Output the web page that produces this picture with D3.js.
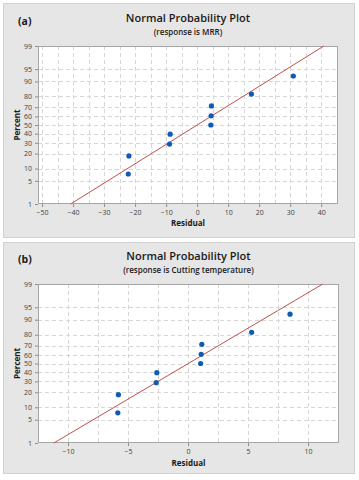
<!DOCTYPE html>
<html><head><meta charset="utf-8">
<script src="https://cdn.jsdelivr.net/npm/d3@7"></script>
<style>body{margin:0;background:#fff;}svg{display:block;}</style>
</head><body>
<svg id="c" width="359" height="480"></svg>
<script>
// Data
const residualsA = [-22.2, -22.0, -8.9, -8.7, 4.4, 4.5, 4.6, 17.5, 31.0];
const residualsB = [-5.85, -5.8, -2.65, -2.6, 1.05, 1.1, 1.15, 5.3, 8.5];
const percentTicks = [1, 5, 10, 20, 30, 40, 50, 60, 70, 80, 90, 95, 99];
const xTicksA = [-50, -40, -30, -20, -10, 0, 10, 20, 30, 40];
const xTicksB = [-10, -5, 0, 5, 10];
const titles = ["Normal Probability Plot", "Normal Probability Plot"];
const subtitles = ["(response is MRR)", "(response is Cutting temperature)"];
const labels = ["(a)", "(b)"];

// inverse normal CDF (Acklam)
function qnorm(p){
  const a=[-3.969683028665376e+01,2.209460984245205e+02,-2.759285104469687e+02,1.383577518672690e+02,-3.066479806614716e+01,2.506628277459239e+00];
  const b=[-5.447609879822406e+01,1.615858368580409e+02,-1.556989798598866e+02,6.680131188771972e+01,-1.328068155288572e+01];
  const c=[-7.784894002430293e-03,-3.223964580411365e-01,-2.400758277161838e+00,-2.549732539343734e+00,4.374664141464968e+00,2.938163982698783e+00];
  const d=[7.784695709041462e-03,3.224671290700398e-01,2.445134137142996e+00,3.754408661907416e+00];
  const pl=0.02425, ph=1-pl; let q,r;
  if(p<pl){q=Math.sqrt(-2*Math.log(p));return (((((c[0]*q+c[1])*q+c[2])*q+c[3])*q+c[4])*q+c[5])/((((d[0]*q+d[1])*q+d[2])*q+d[3])*q+1);}
  if(p<=ph){q=p-0.5;r=q*q;return (((((a[0]*r+a[1])*r+a[2])*r+a[3])*r+a[4])*r+a[5])*q/(((((b[0]*r+b[1])*r+b[2])*r+b[3])*r+b[4])*r+1);}
  q=Math.sqrt(-2*Math.log(1-p));return -(((((c[0]*q+c[1])*q+c[2])*q+c[3])*q+c[4])*q+c[5])/((((d[0]*q+d[1])*q+d[2])*q+d[3])*q+1);
}

const svg = d3.select("#c");
const font = "'Open Sans', 'Noto Sans', sans-serif";

function panel(cfg){
  const g = svg.append("g");
  g.append("rect").attr("x",cfg.px).attr("y",cfg.py).attr("width",cfg.pw).attr("height",cfg.ph)
    .attr("fill","#e6e6e6").attr("stroke","#d2d2d2").attr("stroke-width",1);
  const x = d3.scaleLinear().domain(cfg.xdom).range([cfg.l, cfg.r]);
  const zmax = qnorm(0.99);
  const y = d3.scaleLinear().domain([-zmax, zmax]).range([cfg.b, cfg.t]);
  const yp = p => y(qnorm(p/100));
  g.append("rect").attr("x",cfg.l).attr("y",cfg.t).attr("width",cfg.r-cfg.l).attr("height",cfg.b-cfg.t)
    .attr("fill","#fff");
  // grid
  const gridX = d3.range(Math.ceil(cfg.xdom[0]/cfg.gstep)*cfg.gstep, cfg.xdom[1]+1e-9, cfg.gstep);
  g.selectAll(null).data(gridX).join("line")
    .attr("x1",d=>Math.round(x(d))+0.5).attr("x2",d=>Math.round(x(d))+0.5)
    .attr("y1",cfg.t).attr("y2",cfg.b)
    .attr("stroke","#d6d6d6").attr("stroke-dasharray","4,3");
  g.selectAll(null).data(percentTicks.filter(p=>p>1&&p<99)).join("line")
    .attr("y1",d=>Math.round(yp(d))+0.5).attr("y2",d=>Math.round(yp(d))+0.5)
    .attr("x1",cfg.l).attr("x2",cfg.r)
    .attr("stroke","#d6d6d6").attr("stroke-dasharray","4,3");
  g.append("rect").attr("x",cfg.l+0.5).attr("y",cfg.t+0.5).attr("width",cfg.r-cfg.l-1).attr("height",cfg.b-cfg.t-1)
    .attr("fill","none").attr("stroke","#a6a6a6");
  // axes
  const xa = g.append("g").attr("transform",`translate(0,${cfg.b})`)
    .call(d3.axisBottom(x).tickValues(cfg.xticks).tickSize(3).tickSizeOuter(0).tickFormat(d3.format("d")));
  const ya = g.append("g").attr("transform",`translate(${cfg.l},0)`)
    .call(d3.axisLeft(d3.scaleLinear().domain(y.domain()).range(y.range()))
      .tickValues(percentTicks.map(p=>qnorm(p/100))).tickSize(3).tickSizeOuter(0)
      .tickFormat((d,i)=>percentTicks[i]));
  [xa,ya].forEach(a=>{
    a.select(".domain").remove();
    a.selectAll("line").attr("stroke","#8c8c8c");
    a.selectAll("text").attr("fill","#404040").style("font-family",font).style("font-size","7px");
  });
  // fitted line
  const vals = cfg.data;
  const mu = d3.mean(vals), sd = d3.deviation(vals);
  const z0 = -zmax, z1 = zmax;
  let xa0 = mu + sd*z0, za0 = z0;
  if (xa0 < cfg.xdom[0]) { za0 = (cfg.xdom[0]-mu)/sd; xa0 = cfg.xdom[0]; }
  let xa1 = mu + sd*z1, za1 = z1;
  if (xa1 > cfg.xdom[1]) { za1 = (cfg.xdom[1]-mu)/sd; xa1 = cfg.xdom[1]; }
  g.append("line").attr("x1",x(xa0)).attr("y1",y(za0)).attr("x2",x(xa1)).attr("y2",y(za1))
    .attr("stroke","#c0504d").attr("stroke-width",1);
  // points
  const n = vals.length;
  const sorted = vals.slice().sort((a,b)=>a-b);
  g.selectAll(null).data(sorted).join("circle")
    .attr("cx",d=>x(d)).attr("cy",(d,i)=>yp(100*(i+1-0.3)/(n+0.4)))
    .attr("r",2.6).attr("fill","#0d5bb5");
  // titles
  const cx = (cfg.l+cfg.r)/2;
  g.append("text").attr("x",cx).attr("y",cfg.titleY).attr("text-anchor","middle")
    .style("font-family",font).style("font-weight","600").style("font-size","11px").attr("fill","#1a1a1a").text(cfg.title);
  g.append("text").attr("x",cx).attr("y",cfg.titleY+13).attr("text-anchor","middle")
    .style("font-family",font).style("font-weight","600").style("font-size","8px").attr("fill","#1a1a1a").text(cfg.subtitle);
  g.append("text").attr("x",18).attr("y",cfg.titleY+3).style("font-family",font).style("font-weight","700")
    .style("font-size","10.5px").attr("fill","#1a1a1a").text(cfg.label);
  g.append("text").attr("x",cx).attr("y",cfg.xlabY).attr("text-anchor","middle")
    .style("font-family",font).style("font-weight","700").style("font-size","8px").attr("fill","#1a1a1a").text("Residual");
  g.append("text").attr("transform",`translate(19.5,${(cfg.t+cfg.b)/2}) rotate(-90)`).attr("text-anchor","middle")
    .style("font-family",font).style("font-weight","700").style("font-size","8px").attr("fill","#1a1a1a").text("Percent");
}

panel({px:3.5,py:3.5,pw:351,ph:234,l:38,r:338,t:46,b:204,xdom:[-51.3,45.4],gstep:5,xticks:xTicksA,
  data:residualsA,title:titles[0],subtitle:subtitles[0],label:labels[0],titleY:22,xlabY:226});
panel({px:3.5,py:242.5,pw:351,ph:231,l:38,r:339,t:284,b:443,xdom:[-12.5,12.58],gstep:2.5,xticks:xTicksB,
  data:residualsB,title:titles[1],subtitle:subtitles[1],label:labels[1],titleY:260,xlabY:466});
</script>
</body></html>
